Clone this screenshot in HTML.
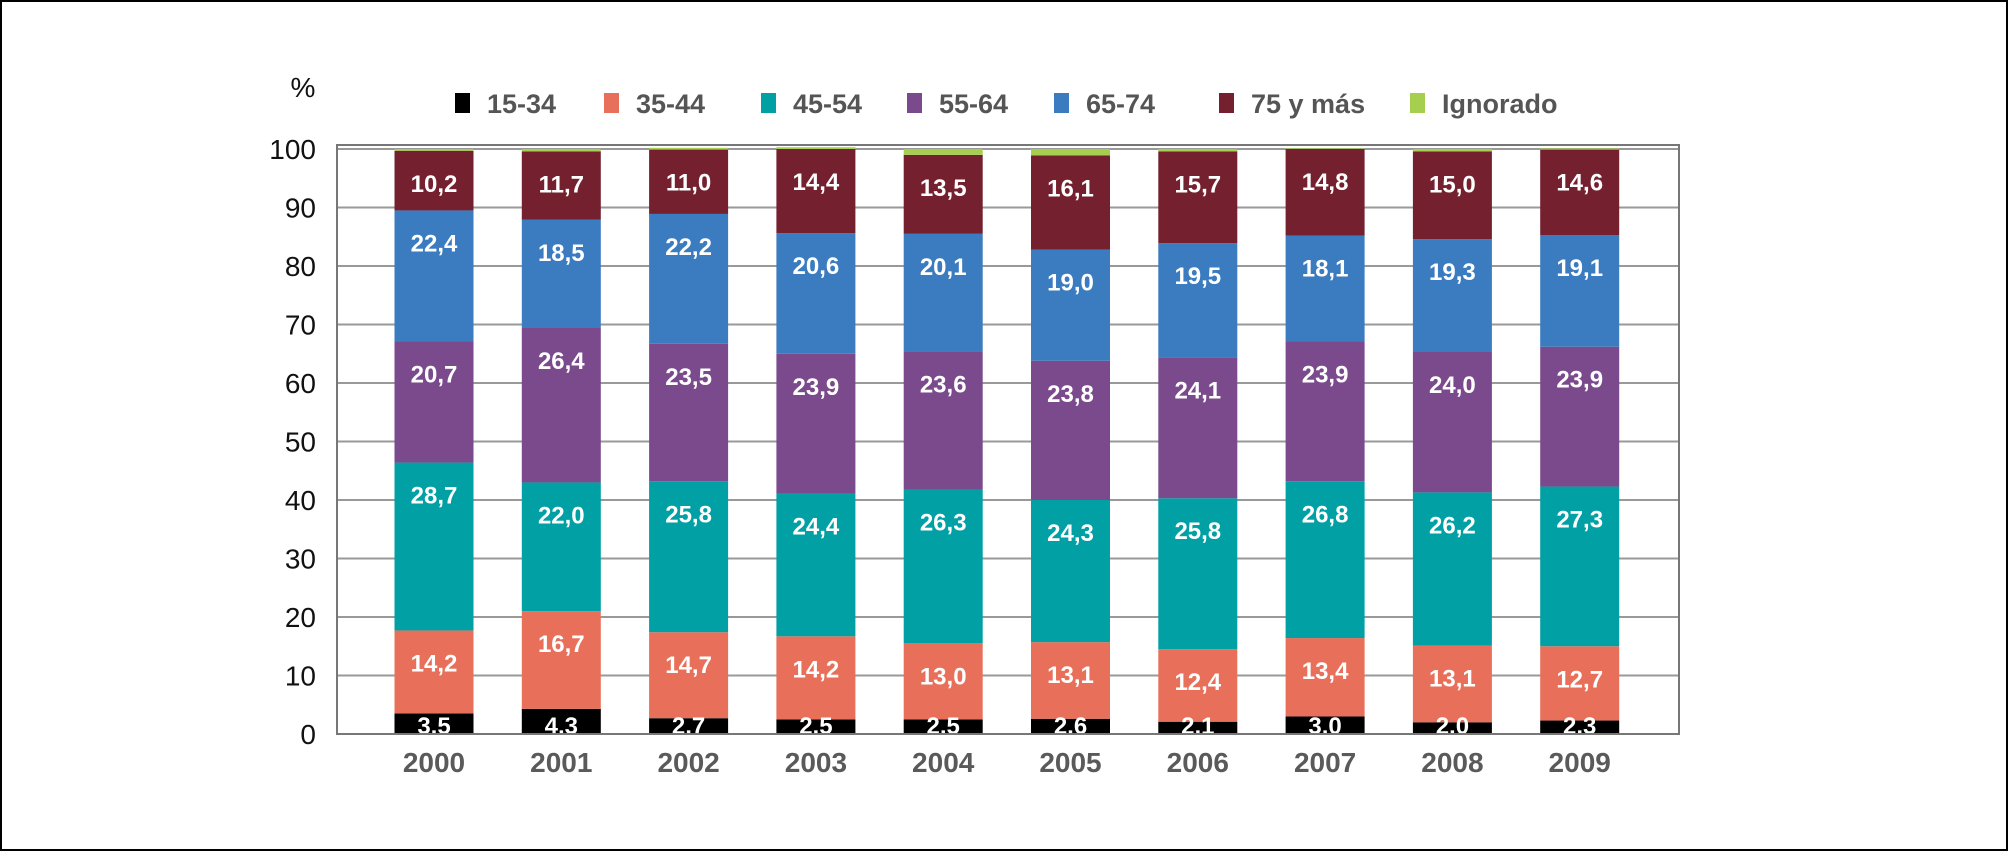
<!DOCTYPE html>
<html><head><meta charset="utf-8"><style>
body{margin:0;background:#fff;}
svg{display:block;font-family:"Liberation Sans",sans-serif;}
</style></head><body>
<svg id="chart" width="2008" height="851" viewBox="0 0 2008 851" xmlns="http://www.w3.org/2000/svg">
<rect x="1" y="1" width="2006" height="849" fill="#fff" stroke="#000" stroke-width="2"/>
<g id="grid"></g><g id="bars"></g><g id="labels"></g><g id="axes"></g><g id="legend"></g>
</svg>
<script>
const years=["2000","2001","2002","2003","2004","2005","2006","2007","2008","2009"];
const seriesNames=["15-34","35-44","45-54","55-64","65-74","75 y más","Ignorado"];
const s1534=[3.5,4.3,2.7,2.5,2.5,2.6,2.1,3.0,2.0,2.3];
const s3544=[14.2,16.7,14.7,14.2,13.0,13.1,12.4,13.4,13.1,12.7];
const s4554=[28.7,22.0,25.8,24.4,26.3,24.3,25.8,26.8,26.2,27.3];
const s5564=[20.7,26.4,23.5,23.9,23.6,23.8,24.1,23.9,24.0,23.9];
const s6574=[22.4,18.5,22.2,20.6,20.1,19.0,19.5,18.1,19.3,19.1];
const s75=[10.2,11.7,11.0,14.4,13.5,16.1,15.7,14.8,15.0,14.6];
const sIgn=[0.3,0.4,0.3,0.3,1.0,1.1,0.4,0.1,0.4,0.2];
const yTicks=[0,10,20,30,40,50,60,70,80,90,100];
const colors=["#000000","#e8705a","#00a0a5","#7b4a8c","#3b7bbf","#74202f","#a6cf4f"];
const series=[s1534,s3544,s4554,s5564,s6574,s75,sIgn];
const NS="http://www.w3.org/2000/svg";
const X0=337,X1=1679,Y0=734,Y100=149;
const y=v=>Y0-(v/100)*(Y0-Y100);
const step=127.3,barW=79;
const xc=i=>434+i*step;
function mk(tag,attrs,parent,text){const e=document.createElementNS(NS,tag);for(const k in attrs)e.setAttribute(k,attrs[k]);if(text!==undefined)e.textContent=text;parent.appendChild(e);return e;}
const grid=document.getElementById('grid'),bars=document.getElementById('bars'),labels=document.getElementById('labels'),axes=document.getElementById('axes'),legend=document.getElementById('legend');
yTicks.forEach(t=>{
  const l=mk('line',{x1:X0,x2:X1,y1:y(t),y2:y(t),stroke:t===0?'#000':'#999','stroke-width':2},grid);
  
  
  const tx=mk('text',{x:316,y:y(t)+10,'text-anchor':'end','font-size':28,fill:'#111'},axes,String(t));
  
  
});
const fr=mk('rect',{x:X0,y:145,width:X1-X0,height:Y0-145,fill:'none',stroke:'#777','stroke-width':2},axes);


const pc=mk('text',{x:303,y:97,'text-anchor':'middle','font-size':28,fill:'#111'},axes,'%');


years.forEach((yr,i)=>{
  let cum=0;
  series.forEach((s,k)=>{
    const v=s[i];const top=y(cum+v),bot=y(cum);
    const r=mk('rect',{x:xc(i)-barW/2,y:top,width:barW,height:Math.max(bot-top,0),fill:colors[k]},bars);
    
    
    if(k<6){
      const ly=Math.min(top+32,725);
      const t=mk('text',{x:xc(i),y:ly+9,'text-anchor':'middle','font-size':24,'font-weight':'bold',fill:'#fff'},labels,v.toFixed(1).replace('.',','));
      
      
    }
    cum+=v;
  });
  const xt=mk('text',{x:xc(i),y:772,'text-anchor':'middle','font-size':28,'font-weight':'bold',fill:'#5a5a5a'},axes,yr);
  
  
});
const legX=[455,604,761,907,1054,1219,1410];
seriesNames.forEach((n,k)=>{
  const g=mk('g',{},legend);
  
  
  mk('rect',{x:legX[k],y:93,width:15,height:20,fill:colors[k]},g);
  mk('text',{x:legX[k]+32,y:113,'font-size':27,'font-weight':'bold',fill:'#555'},g,n);
});
</script>
</body></html>
